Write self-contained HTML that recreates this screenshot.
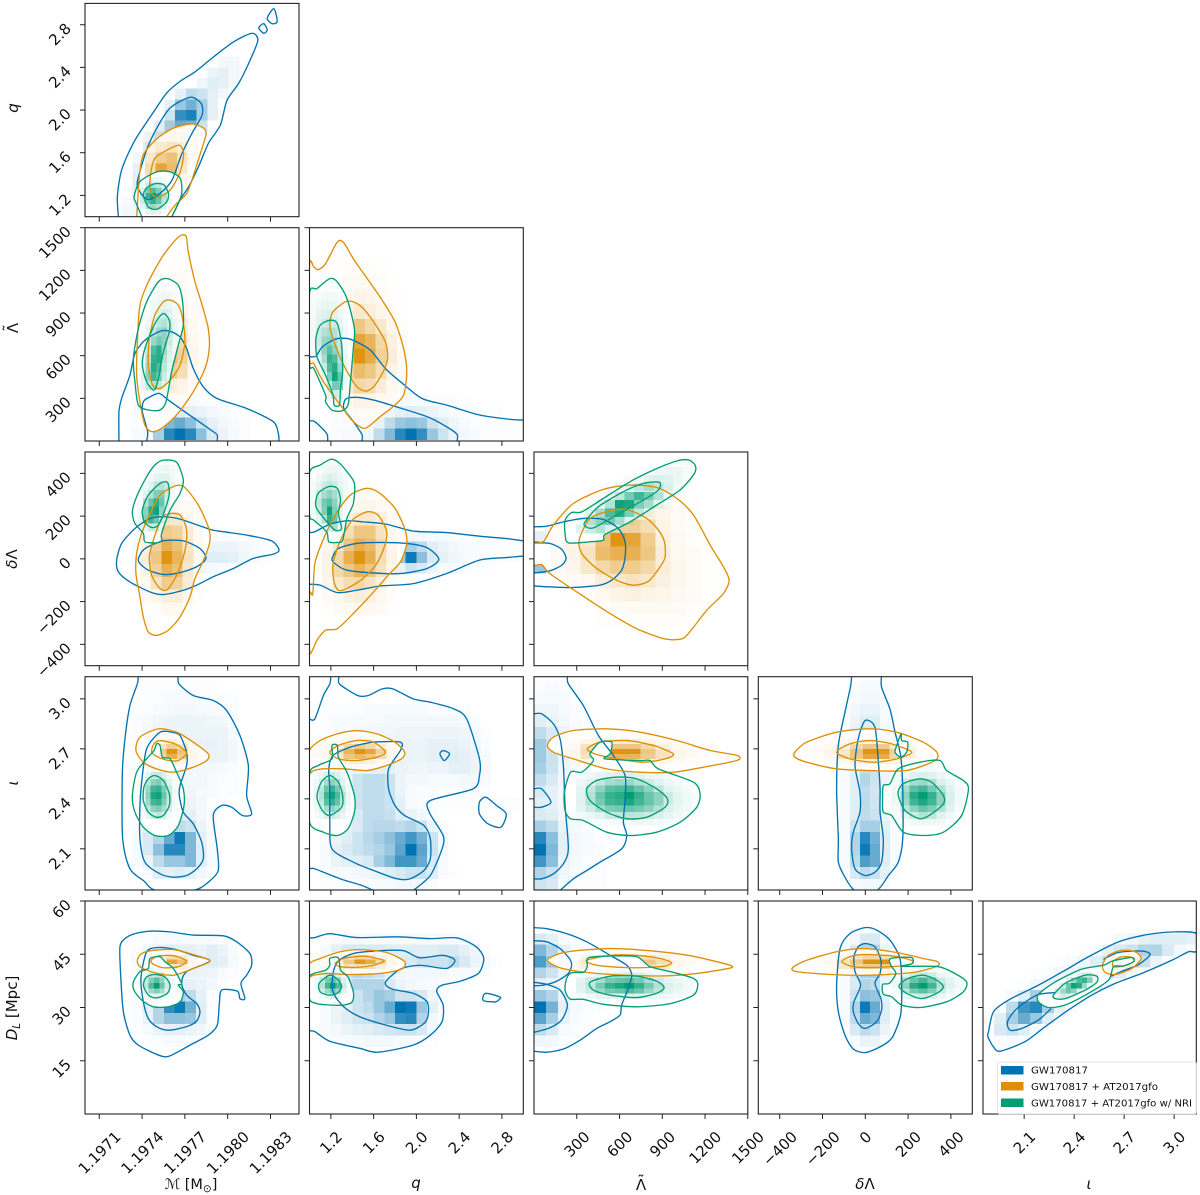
<!DOCTYPE html>
<html lang="en">
<head>
<meta charset="utf-8">
<title>GW170817 corner plot</title>
<style>
html,body{margin:0;padding:0;background:#fff;}
svg{display:block;filter:blur(0.35px);}
text{font-family:"DejaVu Sans","Liberation Sans",sans-serif;fill:#111;}
</style>
</head>
<body>
<svg id="chart" xmlns="http://www.w3.org/2000/svg" width="1200" height="1195" viewBox="0 0 1200 1195">
<rect x="0" y="0" width="1200" height="1195" fill="#ffffff"/>
<g id="panels"></g>
<g id="labels"></g>
<text transform="rotate(-90 18 108)" x="18" y="108" font-size="15" font-style="italic" text-anchor="middle">q</text>
<text transform="rotate(-90 18 328)" x="18" y="328" font-size="15" text-anchor="middle">Λ</text>
<text transform="rotate(-90 18 328)" x="18" y="324" font-size="15" text-anchor="middle">˜</text>
<text transform="rotate(-90 17 559)" x="17" y="559" font-size="15" text-anchor="middle"><tspan font-style="italic">δ</tspan>Λ</text>
<text transform="rotate(-90 18 783)" x="18" y="783" font-size="15" font-style="italic" text-anchor="middle">ι</text>
<text transform="rotate(-90 17 1008)" x="17" y="1008" font-size="15" text-anchor="middle"><tspan font-style="italic">D</tspan><tspan font-size="10.5" dy="3" font-style="italic">L</tspan><tspan dy="-3"> [Mpc]</tspan></text>
<text x="191" y="1189" font-size="14.5" text-anchor="middle"><tspan font-style="italic">ℳ</tspan> [M<tspan font-size="10.5" dy="3">⊙</tspan><tspan dy="-3">]</tspan></text>
<text x="416" y="1188" font-size="15" font-style="italic" text-anchor="middle">q</text>
<text x="641" y="1190" font-size="15" text-anchor="middle">Λ</text>
<text x="641" y="1186" font-size="15" text-anchor="middle">˜</text>
<text x="865" y="1189" font-size="15" text-anchor="middle"><tspan font-style="italic">δ</tspan>Λ</text>
<text x="1089" y="1189" font-size="15" font-style="italic" text-anchor="middle">ι</text>
<g>
<rect x="997.5" y="1062" width="199" height="52" fill="#ffffff" fill-opacity="0.85" stroke="#dddddd" stroke-width="0.8" rx="2"/>
<rect x="1001" y="1066" width="22.5" height="8.5" fill="#0173b2"/>
<text x="1031" y="1073.5" font-size="9.6" textLength="57" lengthAdjust="spacingAndGlyphs">GW170817</text>
<rect x="1001" y="1082" width="22.5" height="8.5" fill="#de8f05"/>
<text x="1031" y="1090" font-size="9.6" textLength="127" lengthAdjust="spacingAndGlyphs">GW170817 + AT2017gfo</text>
<rect x="1001" y="1098.5" width="22.5" height="8.5" fill="#029e73"/>
<text x="1031" y="1106.5" font-size="9.6" textLength="161" lengthAdjust="spacingAndGlyphs">GW170817 + AT2017gfo w/ NRI</text>
</g>
</svg>
<script>
// Chirp mass is stored in units of 1e-5 above 1.197 Msun.
const seriesColors = ['#0173b2', '#de8f05', '#029e73'];
const mcTicks = [10, 40, 70, 100, 130];
const mcTickLabels = ['1.1971', '1.1974', '1.1977', '1.1980', '1.1983'];
const qTicks = [1.2, 1.6, 2.0, 2.4, 2.8];
const qTickLabels = ['1.2', '1.6', '2.0', '2.4', '2.8'];
const lambdaTicks = [300, 600, 900, 1200, 1500];
const lambdaTickLabels = ['300', '600', '900', '1200', '1500'];
const deltaTicks = [-400, -200, 0, 200, 400];
const deltaTickLabels = ['−400', '−200', '0', '200', '400'];
const iotaTicks = [2.1, 2.4, 2.7, 3.0];
const iotaTickLabels = ['2.1', '2.4', '2.7', '3.0'];
const distTicks = [15, 30, 45, 60];
const distTickLabels = ['15', '30', '45', '60'];
const mcRange = [0, 150];
const qRange = [1, 3];
const lambdaRange = [0, 1500];
const deltaRange = [-500, 500];
const iotaRange = [1.853, 3.133];
const distRange = [0, 60];

/* ---------- panel: chirp mass vs q ---------- */
const contMqB90 = [[23.4,1],[22.7,1.19],[25.7,1.44],[33.9,1.69],[40.9,1.84],[48,1.98],[57.3,2.16],[66.7,2.27],[77.3,2.36],[90.2,2.5],[104.2,2.64],[117.1,2.72],[121.1,2.65],[114.8,2.44],[107.7,2.25],[99.5,2.09],[94.9,1.86],[86.6,1.69],[79.6,1.47],[72.6,1.28],[66.7,1.16],[60.9,1]];
const contMqBIsland1 = [[121.8,2.77],[125.3,2.81],[127.7,2.75],[125.3,2.72]];
const contMqBIsland2 = [[127.7,2.86],[132.4,2.95],[134.7,2.83],[131.2,2.81]];
const contMqB50 = [[36.7,1.33],[43.3,1.63],[50.3,1.83],[59.7,2.02],[73.8,2.12],[81.5,2.06],[82,1.95],[74.9,1.78],[67.9,1.59],[60.9,1.34],[52.7,1.22],[44.5,1.16],[38.6,1.23]];
const contMqO90 = [[36.3,1],[38.1,1.38],[40.9,1.58],[50.3,1.73],[62,1.83],[74.9,1.87],[83.1,1.83],[84.8,1.77],[80.8,1.59],[77.3,1.44],[71.4,1.22],[63.2,1.11],[57.3,1]];
const contMqO50 = [[46.1,1.41],[49.1,1.55],[59.7,1.64],[66.3,1.67],[69.1,1.59],[66.7,1.42],[59.7,1.25],[50.3,1.18],[45.6,1.25]];
const contMqG90 = [[39.8,1],[35.8,1.13],[34.4,1.19],[38.6,1.33],[50.3,1.42],[59.7,1.42],[66.7,1.36],[67.9,1.23],[65.6,1.13],[60.9,1]];
const contMqG50 = [[40.9,1.2],[43.3,1.27],[49.1,1.31],[55,1.3],[58.5,1.22],[57.3,1.14],[50.3,1.07],[44.5,1.09]];
const heatMqB = [[.05,.05],[.03,.08,.1],[0,.1,.2,.2],[0,.12,.2,.1],[0,.1,.15],[0,.05,.15,.1],[0,0,.12,.2,.2],[0,0,.05,.2,.35,.3,.2,.05],[0,0,0,.1,.35,.6,.55,.2],[0,0,0,0,.2,.8,.9,.35,.1],[0,0,0,0,.1,.4,.55,.35,.1],[0,0,0,0,0,.1,.25,.2,.1,.05],[0,0,0,0,0,0,0,.06,.12,.1,.05],[0,0,0,0,0,0,0,0,.08,.1,.05],[0,0,0,0,0,0,0,0,0,.05,.05]];
const heatMqO = [[0,.03,.03],[.03,.1,.15,.05],[0,.2,.45,.3,.08],[0,.3,.8,.6,.2],[0,.2,.45,.55,.25,.05],[0,.1,.18,.25,.15,.04],[0,.05,.07,.08,.06,.03],[0,0,.03,.03,.03,.03]];
const heatMqG = [[.03,.1,.12,.1,.04,.01],[.1,.3,.4,.3,.12,.03],[.2,.6,.8,.6,.25,.05],[.25,.8,1,.7,.3,.06],[.15,.55,.7,.5,.2,.04],[.05,.2,.3,.25,.1,.02],[.01,.05,.08,.07,.03,0]];

/* ---------- panel: chirp mass vs lambda ---------- */
const contMlB90 = [[23.8,0],[23.8,206],[25.7,300],[31.5,463],[35,615],[42,709],[52.6,772],[59.6,772],[66.6,732],[71.2,651],[75.9,510],[82.9,381],[92.3,300],[113.3,229],[132,136],[135.5,54],[136,0]];
const contMlB50 = [[43.2,0],[43.9,66],[40.2,206],[40.9,276],[44.4,304],[51.9,335],[58.4,288],[66.6,229],[78.3,147],[89.9,66],[92.7,42],[92.7,0]];
const contMlO90 = [[70.8,1441],[72.4,1329],[77.1,1119],[81.8,966],[86.4,791],[87.1,651],[84.1,510],[75.9,346],[64.2,183],[53.7,89],[46.7,66],[42,112],[38.5,276],[36.2,463],[36.7,697],[38.5,955],[44.4,1119],[54.9,1306],[65.4,1434]];
const contMlO50 = [[60,990],[65.4,955],[68.4,861],[70,697],[66.6,534],[59.6,428],[52.6,370],[47.4,393],[44.4,534],[45.1,721],[49,885],[54.9,978]];
const contMlG90 = [[57.7,1142],[65.4,1095],[68.4,978],[68.9,814],[65.4,674],[60.7,487],[56.8,276],[52.6,218],[44.4,218],[37.4,253],[35,417],[33.9,580],[37.4,791],[43.2,978],[51.4,1119]];
const contMlG50 = [[54.9,896],[59.1,849],[59.1,768],[54.9,627],[51.4,440],[48.4,358],[43.2,417],[40.2,534],[42,651],[49,826]];
const heatMlB = [[.03,.04,.35,.85,1,.85,.45,.15,.08,.04,.02],[.02,.03,.1,.5,.6,.45,.2,.1,.05,.03,.02],[.02,.02,.03,.1,.12,.1,.08,.05,.03,.02,.01],[.01,.02,.02,.04,.04,.03,.02,.02,.01]];
const heatMlO = [[0,.01,.02,.01,0,0],[.01,.03,.04,.03,.01,0],[.04,.1,.12,.1,.03,.01],[.15,.35,.4,.3,.06,.02],[.2,.45,.55,.4,.08,.02],[.15,.4,.45,.3,.06,.02],[.08,.2,.3,.2,.04,.02],[.04,.1,.15,.1,.03,.01],[.02,.05,.07,.05,.02,.01],[.01,.03,.04,.03,.01,0],[0,.01,.02,.01,0,0]];
const heatMlG = [[.03,.05,.05,.04,.03,.01,0,0],[.1,.25,.3,.25,.12,.05,.02,0],[.1,.45,.75,.55,.2,.08,.02,0],[.08,.4,.85,.7,.25,.1,.03,0],[.05,.3,.8,.85,.3,.12,.04,0],[.04,.25,.7,.85,.4,.15,.05,.01],[.02,.15,.4,.55,.45,.2,.06,.02],[.01,.1,.25,.4,.45,.25,.08,.02],[0,.06,.12,.25,.3,.2,.08,.02],[0,.03,.08,.15,.18,.12,.05,.02],[0,.02,.05,.08,.1,.08,.04,.02],[0,.01,.03,.05,.06,.05,.03,.01],[0,0,.01,.02,.03,.02,.01,0]];

/* ---------- panel: q vs lambda ---------- */
const contQlB90a = [[1,592],[1.06,597],[1.12,662],[1.24,716],[1.35,721],[1.44,697],[1.57,639],[1.71,510],[1.85,417],[2.05,300],[2.28,253],[2.59,183],[2.88,152],[3,147]];
const contQlB90b = [[1,141],[1.05,136],[1.16,54],[1.17,0]];
const contQlB50 = [[1.49,0],[1.49,47],[1.4,147],[1.32,229],[1.34,295],[1.44,307],[1.6,288],[1.78,248],[2.1,171],[2.28,101],[2.38,47],[2.38,0]];
const contQlO90 = [[1,1231],[1.04,1224],[1.08,1205],[1.15,1247],[1.26,1399],[1.32,1395],[1.41,1282],[1.54,1142],[1.66,1013],[1.8,838],[1.88,651],[1.91,487],[1.88,323],[1.78,241],[1.66,171],[1.52,89],[1.41,136],[1.3,241],[1.13,417],[1.04,545],[1,592]];
const contQlO50 = [[1.35,983],[1.47,955],[1.6,838],[1.71,697],[1.73,580],[1.69,487],[1.6,381],[1.52,351],[1.43,393],[1.32,534],[1.23,697],[1.19,814],[1.22,908]];
const contQlG90 = [[1,1037],[1.07,1072],[1.19,1142],[1.26,1119],[1.35,1002],[1.42,791],[1.41,651],[1.38,393],[1.36,253],[1.3,211],[1.21,218],[1.15,276],[1.15,323],[1.04,510],[1,545]];
const contQlG50 = [[1.1,814],[1.19,849],[1.26,826],[1.3,674],[1.31,487],[1.29,370],[1.28,253],[1.23,253],[1.22,323],[1.15,463],[1.07,592],[1.06,721]];
const heatQlB = [[.02,.03,.04,.06,.25,.5,.85,1,.8,.4,.2,.08,.05,.03,.02,.02,.01,.01],[.01,.02,.02,.03,.08,.25,.4,.45,.4,.2,.12,.06,.03,.02,.02,.01,.01,.01],[.01,.01,.01,.02,.03,.06,.1,.12,.1,.08,.05,.03,.02,.02,.01,.01],[0,0,.01,.01,.01,.02,.03,.03,.03,.02,.02,.01,.01]];
const heatQlO = [[.01,.02,.03,.03,.02,.01,0],[.03,.06,.1,.1,.06,.03,.01],[.12,.2,.35,.3,.15,.05,.02],[.25,.4,.6,.5,.3,.1,.03],[.3,.55,.95,.75,.4,.15,.04],[.25,.5,.8,.65,.35,.12,.03],[.12,.3,.5,.35,.2,.07,.02],[.06,.12,.2,.15,.08,.03,.01],[.03,.06,.1,.08,.04,.02,.01],[.02,.03,.04,.03,.02,.01,0],[.01,.02,.02,.02,.01,0,0]];
const heatQlG = [[0,0,.02,.1,.2,.15,.03,0],[0,0,.04,.25,.55,.5,.05,0],[0,.02,.1,.5,.95,.6,.08,.01],[0,.05,.2,.7,.85,.4,.07,.01],[.02,.1,.35,.8,.7,.3,.07,.01],[.03,.15,.45,.65,.45,.25,.06,.01],[.05,.2,.4,.45,.35,.2,.06,.01],[.05,.2,.3,.35,.3,.15,.05,.01],[.05,.12,.2,.22,.2,.1,.04,.01],[.04,.1,.12,.15,.12,.07,.03,.01],[.03,.06,.08,.08,.08,.05,.02,0],[.02,.03,.05,.05,.05,.03,.01,0],[.01,.01,.02,.02,.02,.01,0,0]];

/* ---------- panel: chirp mass vs delta lambda ---------- */
const contMdB90 = [[22.2,-6],[25.7,72],[35,142],[45.6,189],[54.9,197],[66.6,186],[87.6,138],[96.9,127],[113.3,111],[130.8,84],[136,41],[132,22],[118,2],[104,-45],[89.9,-84],[78.3,-123],[68.9,-147],[54.9,-167],[45.6,-155],[31.5,-108],[23.4,-61]];
const contMdB50 = [[37.4,2],[42,48],[54.9,84],[68.9,84],[80.6,48],[84.8,2],[78.3,-37],[66.6,-64],[54.9,-73],[44.4,-53],[38.5,-22]];
const contMdO90 = [[63.5,342],[70,334],[79.4,252],[86.4,150],[87.6,87],[84.1,9],[77.1,-92],[73.6,-178],[66.6,-272],[58.4,-334],[50.2,-358],[44.4,-342],[40.9,-272],[38.1,-162],[35.7,-69],[36.2,25],[39.7,119],[45.6,212],[52.6,298]];
const contMdO50 = [[59.6,212],[66.6,205],[70.8,150],[71.2,87],[68.9,9],[64.2,-77],[57.7,-144],[52.6,-139],[46.7,-77],[45.1,9],[47.9,87],[53.7,189]];
const contMdG90 = [[54.9,462],[64.2,452],[68.9,369],[66.6,306],[59.6,228],[53.7,119],[53.7,87],[50.2,75],[42,80],[40.9,119],[35,166],[33.2,220],[36.2,291],[43.2,384],[49,439]];
const contMdG50 = [[52.6,353],[57.7,358],[59.1,306],[56,228],[51.4,158],[46.7,147],[41.6,173],[40.2,228],[44.4,298]];
const heatMdB = [[.02,.02,.06,.08,.08,.07,.05,.04,.03,.02,.01],[.04,.08,.15,.2,.2,.18,.15,.12,.12,.1,.06,.03,.02],[.03,.06,.1,.12,.12,.1,.1,.08,.08,.07,.05,.03,.02,.01],[.01,.02,.03,.03,.03,.03,.02,.02,.02,.02,.01]];
const heatMdO = [[.01,.02,.05,.06,.02,0],[.03,.08,.15,.15,.07,.01],[.06,.25,.45,.4,.15,.02],[.1,.4,.7,.55,.2,.04],[.15,.5,.95,.65,.25,.05],[.1,.4,.7,.55,.2,.04],[.06,.25,.45,.4,.15,.03],[.02,.1,.2,.2,.08,.02],[.01,.03,.06,.06,.03,.01]];
const heatMdG = [[.02,.1,.2,.2,.08,.02,0,0],[.08,.5,.75,.6,.2,.05,.01,0],[.05,.45,.85,.95,.45,.1,.02,0],[.03,.3,.6,.85,.6,.15,.03,0],[.01,.12,.3,.5,.5,.2,.05,.01],[0,.05,.12,.25,.3,.2,.07,.02],[0,.02,.05,.1,.12,.12,.06,.02],[0,0,.02,.04,.06,.07,.05,.02],[0,0,0,.01,.02,.03,.02,.01]];

/* ---------- panel: q vs delta lambda ---------- */
const contQdB90a = [[1,123],[1.05,127],[1.19,162],[1.35,178],[1.5,173],[1.72,162],[1.97,130],[2.28,123],[2.59,106],[2.84,95],[3,84]];
const contQdB90b = [[1,-119],[1.1,-123],[1.26,-158],[1.44,-147],[1.66,-127],[1.97,-116],[2.28,-69],[2.59,-6],[2.84,6],[3,13]];
const contQdB50 = [[1.21,-3],[1.27,48],[1.44,72],[1.66,77],[1.91,72],[2.1,52],[2.21,-2],[2.1,-45],[1.85,-69],[1.6,-66],[1.35,-53],[1.26,-30]];
const contQdO90 = [[1.54,330],[1.66,306],[1.8,236],[1.89,142],[1.91,72],[1.85,-14],[1.75,-69],[1.6,-155],[1.41,-256],[1.26,-327],[1.15,-334],[1.07,-381],[1.03,-425],[1,-428],[1,-167],[1.03,-166],[1.05,-22],[1.12,80],[1.24,205],[1.38,298]];
const contQdO50 = [[1.54,220],[1.64,205],[1.72,134],[1.71,72],[1.63,-22],[1.5,-92],[1.35,-139],[1.27,-147],[1.23,-108],[1.22,-22],[1.29,87],[1.4,181]];
const contQdG90 = [[1,403],[1.1,439],[1.2,466],[1.27,452],[1.35,408],[1.42,353],[1.41,259],[1.35,189],[1.31,87],[1.26,77],[1.18,80],[1.16,127],[1.04,181],[1,205]];
const contQdG50 = [[1.08,306],[1.18,338],[1.26,330],[1.29,275],[1.27,213],[1.3,142],[1.24,134],[1.15,181],[1.06,244]];
const heatQdB = [[.02,.02,.02,.03,.04,.05,.06,.08,.2,.15,.08,.04,.03,.02,.01,.01],[.03,.04,.05,.06,.08,.1,.15,.4,.95,.45,.15,.1,.06,.04,.03,.02,.02,.01,.01],[.02,.03,.04,.05,.06,.08,.1,.2,.35,.25,.12,.08,.05,.03,.03,.02,.01,.01,.01],[.01,.01,.02,.02,.02,.03,.03,.04,.05,.05,.03,.03,.02,.02,.01,.01]];
const heatQdO = [[.02,.03,.06,.07,.06,.03,.01,0],[.03,.06,.12,.15,.12,.05,.02,0],[.08,.2,.3,.35,.25,.12,.04,.01],[.1,.35,.5,.65,.5,.25,.07,.02],[.1,.35,.7,.95,.7,.3,.1,.02],[.07,.2,.5,.7,.6,.3,.08,.02],[.04,.1,.3,.5,.5,.25,.07,.02],[.02,.05,.12,.2,.2,.12,.04,.01],[.01,.02,.04,.08,.08,.05,.02,.01],[0,.01,.02,.03,.03,.02,.01,0]];
const heatQdG = [[0,.01,.05,.2,.35,.1,.01,0],[.02,.1,.3,.8,.6,.1,.02,0],[.05,.2,.5,.95,.5,.1,.02,0],[.05,.25,.55,.65,.45,.15,.03,0],[.05,.2,.35,.45,.35,.15,.04,.01],[.04,.1,.2,.25,.2,.1,.05,.01],[.02,.05,.1,.15,.12,.08,.04,.01],[.01,.02,.05,.07,.07,.05,.02,0],[0,0,.01,.03,.03,.02,0,0]];

/* ---------- panel: lambda vs delta lambda ---------- */
const contLdB90 = [[0,150],[89,153],[206,173],[346,189],[487,184],[592,142],[639,80],[639,9],[615,-53],[545,-100],[463,-123],[276,-134],[112,-131],[0,-127]];
const contLdB50 = [[0,75],[112,72],[194,45],[225,2],[194,-30],[112,-56],[0,-66]];
const contLdO90 = [[0,75],[66,80],[136,158],[276,259],[487,325],[674,345],[861,334],[1002,283],[1119,205],[1236,64],[1329,-37],[1369,-100],[1329,-162],[1212,-241],[1072,-358],[1013,-377],[908,-373],[721,-327],[534,-256],[300,-155],[112,-69],[54,-27],[0,-25]];
const contLdO50 = [[318,91],[393,189],[534,225],[651,231],[791,189],[873,134],[915,80],[920,9],[885,-37],[803,-105],[697,-123],[580,-100],[440,-45],[335,25]];
const contLdG90 = [[218,181],[264,217],[335,220],[487,283],[674,361],[838,416],[1002,458],[1083,463],[1130,439],[1126,400],[1025,322],[861,252],[674,173],[498,114],[487,87],[393,80],[241,75],[218,119]];
const contLdG50 = [[358,173],[452,244],[627,314],[767,353],[880,358],[873,322],[767,275],[580,205],[417,145],[358,153]];
const heatLdB = [[.4,.1,.03,.01],[.8,.3,.08,.02],[.2,.15,.05,.02],[.1,.05,.02,.01]];
const heatLdO = [[0,0,0,.01,.01,.02,.02,.02,.02,.01,0],[0,0,0,.02,.03,.04,.04,.04,.03,.02,.01],[0,.01,.02,.06,.1,.12,.1,.08,.05,.03,.01],[.01,.03,.06,.15,.2,.25,.2,.12,.07,.03,.01],[.03,.08,.2,.35,.45,.45,.35,.15,.07,.03,.01],[.04,.1,.25,.6,.7,.7,.5,.15,.06,.03,.01],[.03,.08,.2,.55,.95,.8,.45,.12,.05,.02,.01],[.02,.05,.12,.3,.35,.4,.3,.1,.04,.02,.01],[.01,.02,.05,.08,.1,.12,.12,.08,.03,.01,0],[0,.01,.02,.03,.04,.05,.05,.04,.02,.01,0]];
const heatLdG = [[.12,.2,.3,.15,.05,.01,0,0,0,0,0,0],[.06,.3,.45,.55,.35,.12,.02,0,0,0,0,0],[.01,.12,.35,.7,.85,.5,.25,.05,0,0,0,0],[0,.02,.1,.3,.95,.9,.5,.35,.1,.02,0,0],[0,0,.01,.08,.25,.55,.75,.55,.3,.08,.02,0],[0,0,0,.01,.05,.15,.25,.35,.25,.15,.05,.01],[0,0,0,0,.01,.03,.06,.12,.15,.12,.08,.03],[0,0,0,0,0,0,.01,.03,.06,.07,.07,.04],[0,0,0,0,0,0,0,0,.01,.02,.03,.03]];

/* ---------- panel: chirp mass vs iota ---------- */
const contMiB90 = [[37.4,3.14],[36.7,3.09],[31.5,2.96],[28,2.76],[26.2,2.56],[26.4,2.16],[31.5,1.98],[40.9,1.91],[49.8,1.85],[75.9,1.85],[86.4,1.9],[93.4,1.97],[92.7,2.1],[89.9,2.3],[95.8,2.36],[102.8,2.35],[110.3,2.3],[116.8,2.31],[113.3,2.42],[114.5,2.6],[108.6,2.78],[99.3,2.93],[89.9,2.99],[75.9,3.02],[65.9,3.09],[65.4,3.14]];
const contMiB50 = [[52.6,2.8],[60.7,2.8],[66.6,2.78],[71.2,2.68],[71.2,2.6],[66.6,2.48],[66.1,2.42],[68.9,2.32],[75.9,2.25],[81.8,2.14],[82.9,2.04],[78.3,1.98],[71.2,1.94],[61.9,1.93],[52.6,1.95],[42,2.02],[38.5,2.16],[38.5,2.36],[39.7,2.5],[43.2,2.7]];
const contMiO90 = [[51.4,2.82],[64.2,2.8],[75.9,2.74],[86.4,2.67],[85.3,2.63],[75.9,2.59],[61.9,2.56],[50.2,2.58],[40.9,2.62],[35.7,2.69],[38.5,2.77]];
const contMiO50 = [[52.6,2.75],[63,2.73],[70,2.69],[71.2,2.67],[65.4,2.63],[58.4,2.63],[51.4,2.65],[46.7,2.68],[48.4,2.73]];
const contMiG90 = [[50.2,2.73],[52.6,2.72],[54.2,2.65],[59.6,2.64],[64.2,2.56],[68.9,2.46],[69.4,2.36],[65.4,2.24],[58.4,2.18],[49,2.18],[40.9,2.23],[35,2.32],[33.2,2.42],[36.2,2.56],[43.2,2.64],[48.4,2.69]];
const contMiG50 = [[49,2.54],[54.9,2.51],[59.1,2.43],[59.1,2.36],[54.9,2.3],[49.8,2.29],[44.4,2.32],[40.9,2.39],[41.3,2.47],[44.4,2.52]];
const heatMiB = [[.01,.03,.12,.1,.12,.1,.05,.02],[.03,.08,.25,.4,.4,.5,.12,.03],[.03,.15,.45,.85,.85,.5,.12,.03],[.03,.15,.3,.6,.95,.5,.1,.02],[.02,.1,.12,.2,.25,.2,.08,.02],[.02,.05,.08,.1,.12,.1,.05,.02],[.02,.05,.07,.08,.08,.07,.05,.02,.01],[.02,.05,.07,.07,.07,.06,.04,.03,.01,.01],[.02,.04,.06,.06,.06,.05,.05,.03,.02,.01],[.02,.04,.05,.05,.06,.05,.05,.05,.03,.02],[.02,.05,.07,.08,.08,.07,.06,.08,.08,.05],[.02,.05,.07,.08,.08,.08,.08,.09,.08,.05],[.02,.05,.07,.07,.08,.08,.08,.08,.08,.04],[.02,.04,.06,.07,.08,.08,.07,.06,.05,.03],[.01,.02,.03,.04,.05,.05,.04,.03,.02,.02],[0,.01,.02,.03,.03,.03,.02,.02,.01,.01],[0,.01,.01,.02,.02,.02,.01,.01]];
const heatMiO = [[.01,.02,.03,.02,.01,0],[.03,.08,.15,.1,.05,.01],[.06,.4,.7,.45,.08,.02],[.05,.45,.95,.55,.07,.02],[.03,.25,.45,.25,.05,.01],[.02,.1,.15,.08,.03,.01],[.01,.03,.05,.03,.01,0]];
const heatMiG = [[.02,.1,.2,.25,.15,.05,.01,0],[.05,.25,.45,.5,.35,.15,.03,0],[.08,.4,.75,.8,.5,.2,.05,.01],[.1,.45,.9,.95,.6,.25,.05,.01],[.08,.4,.75,.8,.5,.2,.05,.01],[.05,.25,.45,.5,.3,.12,.03,0],[.02,.1,.2,.22,.15,.05,.01,0],[.01,.03,.05,.06,.04,.01,0,0]];

/* ---------- panel: q vs iota ---------- */
const contQiB90a = [[1,2.88],[1.05,2.88],[1.13,3.02],[1.19,3.09],[1.2,3.14]];
const contQiB90b = [[1.28,3.14],[1.28,3.09],[1.45,3.02],[1.55,3.02],[1.68,3.06],[1.78,3.06],[1.97,3],[2.13,2.98],[2.35,2.94],[2.47,2.88],[2.59,2.64],[2.59,2.54],[2.53,2.46],[2.13,2.39],[2.12,2.32],[2.25,2.18],[2.24,2.1],[2.13,1.94],[1.97,1.85]];
const contQiB90c = [[1,1.98],[1.05,1.98],[1.29,1.92],[1.49,1.88],[1.6,1.85]];
const contQiBIsland1 = [[2.22,2.67],[2.25,2.69],[2.31,2.67],[2.26,2.63]];
const contQiBIsland2 = [[2.59,2.38],[2.65,2.41],[2.75,2.36],[2.84,2.31],[2.79,2.23],[2.67,2.25],[2.59,2.31]];
const contQiB50 = [[1.22,2.66],[1.38,2.71],[1.6,2.74],[1.85,2.74],[1.85,2.69],[1.74,2.58],[1.74,2.46],[1.8,2.36],[1.89,2.3],[2.07,2.24],[2.13,2.16],[2.13,2.04],[2.07,1.97],[1.94,1.92],[1.82,1.92],[1.6,1.97],[1.41,2.02],[1.21,2.1],[1.19,2.26],[1.19,2.46],[1.18,2.58]];
const contQiO90 = [[1,2.69],[1.1,2.75],[1.26,2.79],[1.44,2.81],[1.63,2.79],[1.8,2.74],[1.89,2.68],[1.86,2.64],[1.72,2.6],[1.54,2.57],[1.32,2.58],[1.13,2.58],[1.04,2.57],[1,2.56]];
const contQiO50 = [[1.19,2.68],[1.27,2.72],[1.44,2.75],[1.6,2.74],[1.71,2.68],[1.63,2.65],[1.44,2.63],[1.27,2.64]];
const contQiG90 = [[1,2.55],[1.08,2.6],[1.21,2.64],[1.21,2.72],[1.26,2.72],[1.27,2.65],[1.35,2.56],[1.42,2.42],[1.42,2.32],[1.36,2.22],[1.26,2.18],[1.13,2.2],[1,2.26]];
const contQiG50 = [[1.19,2.54],[1.27,2.5],[1.31,2.42],[1.3,2.35],[1.19,2.3],[1.12,2.33],[1.07,2.41],[1.11,2.5]];
const heatQiB = [[.01,.01,.02,.02,.02,.03,.04,.05,.05,.05,.02],[.02,.04,.04,.05,.06,.08,.12,.15,.2,.2,.12,.03,.01],[.03,.08,.1,.12,.15,.35,.5,.75,.75,.6,.15,.03],[.03,.1,.15,.2,.25,.3,.4,.65,1,.65,.2,.05],[.02,.08,.12,.2,.28,.35,.45,.6,.75,.55,.2,.05],[.02,.05,.1,.15,.25,.28,.28,.25,.3,.2,.08,.02],[.02,.04,.08,.15,.25,.25,.22,.12,.08,.05,.02],[.01,.03,.07,.2,.25,.25,.2,.1,.04,.02,.01,.01,.01,.01,.01,.02,.02,.02,.01],[.01,.03,.07,.2,.25,.25,.2,.08,.03,.02,.02,.02,.02,.02,.03,.02],[.01,.03,.07,.2,.25,.25,.2,.08,.05,.05,.04,.04,.04,.05,.05,.03],[.02,.03,.06,.08,.1,.1,.1,.08,.07,.06,.07,.07,.1,.1,.07,.03],[.02,.05,.06,.07,.08,.08,.08,.08,.08,.08,.1,.1,.12,.1,.07,.03],[.02,.04,.05,.06,.07,.07,.07,.08,.08,.08,.1,.1,.1,.08,.06,.02],[.02,.03,.04,.05,.05,.06,.06,.07,.07,.07,.07,.08,.08,.06,.04,.01],[.02,.03,.03,.04,.04,.04,.05,.05,.05,.05,.05,.05,.05,.04,.02],[.01,.02,.02,.02,.03,.03,.03,.03,.03,.03,.02,.02,.02,.01]];
const heatQiO = [[.01,.02,.02,.03,.03,.03,.02,.01,0],[.02,.03,.06,.12,.15,.12,.06,.02,.01],[.03,.05,.2,.5,.6,.5,.3,.06,.01],[.03,.06,.3,.65,.95,.8,.4,.08,.02],[.03,.05,.15,.35,.45,.35,.15,.05,.01],[.01,.02,.06,.1,.12,.1,.05,.02,.01],[0,.01,.02,.03,.03,.03,.02,.01,0]];
const heatQiG = [[.03,.08,.15,.2,.15,.08,.02,0],[.06,.15,.35,.45,.35,.15,.04,.01],[.08,.25,.65,.8,.6,.25,.06,.01],[.1,.3,.75,.95,.7,.3,.07,.01],[.08,.25,.6,.8,.55,.2,.05,.01],[.06,.15,.35,.45,.35,.12,.03,0],[.03,.08,.15,.2,.15,.07,.02,0],[.01,.02,.04,.06,.04,.02,0,0]];

/* ---------- panel: lambda vs iota ---------- */
const contLiB90 = [[236,3.14],[241,3.09],[346,2.96],[452,2.78],[557,2.66],[639,2.54],[639,2.4],[627,2.26],[651,2.18],[615,2.1],[463,2.02],[370,1.97],[276,1.92],[183,1.85]];
const contLiB50 = [[0,2.91],[54,2.91],[136,2.85],[183,2.76],[206,2.6],[218,2.36],[241,2.1],[206,2.01],[136,1.95],[54,1.92],[0,1.92]];
const contLiBIsland = [[0,2.46],[54,2.46],[119,2.38],[54,2.35],[0,2.35]];
const contLiO90 = [[510,2.82],[744,2.8],[1002,2.75],[1236,2.69],[1427,2.66],[1423,2.63],[1189,2.59],[978,2.56],[744,2.56],[510,2.58],[276,2.64],[136,2.68],[94,2.72],[136,2.77],[276,2.81]];
const contLiO50 = [[374,2.7],[463,2.74],[651,2.75],[838,2.72],[978,2.67],[920,2.64],[767,2.62],[580,2.64],[428,2.67]];
const contLiG90 = [[463,2.74],[545,2.74],[534,2.67],[498,2.64],[744,2.63],[814,2.63],[873,2.58],[1119,2.5],[1165,2.43],[1142,2.35],[1025,2.26],[861,2.2],[674,2.18],[510,2.2],[346,2.27],[257,2.28],[218,2.33],[213,2.44],[257,2.56],[335,2.56],[417,2.63],[393,2.67]];
const contLiG50 = [[370,2.46],[440,2.51],[580,2.53],[721,2.52],[861,2.46],[936,2.4],[920,2.35],[791,2.29],[651,2.28],[510,2.32],[393,2.39]];
const heatLiB = [[.2,.15,.03,.02,.01,.01],[.3,.2,.06,.03,.02,.01],[.75,.45,.08,.04,.02,.01],[1,.5,.1,.05,.03,.02],[.85,.45,.1,.05,.03,.01],[.35,.25,.08,.04,.02,.01],[.15,.12,.06,.03,.01],[.12,.1,.05,.03,.01],[.15,.1,.05,.02,.01],[.25,.15,.05,.02,.01],[.35,.2,.06,.03,.01],[.38,.2,.07,.03,.01],[.38,.2,.07,.03,.01],[.25,.15,.07,.03,.01],[.12,.08,.05,.02,.01],[.06,.06,.04,.02],[.03,.04,.03,.01],[.02,.03,.02,.01]];
const heatLiO = [[0,.01,.02,.03,.03,.03,.03,.02,.01,.01,0,0],[.01,.02,.05,.1,.15,.15,.1,.07,.03,.02,.01,0],[.02,.05,.25,.45,.65,.65,.45,.25,.08,.03,.02,.01],[.03,.08,.3,.5,.95,.95,.5,.25,.08,.03,.02,.01],[.02,.05,.25,.4,.5,.5,.35,.12,.05,.02,.01,0],[.01,.03,.08,.12,.15,.15,.1,.05,.02,.01,0,0],[0,.01,.02,.03,.04,.04,.03,.02,.01,0,0,0]];
const heatLiG = [[.01,.02,.03,.04,.05,.06,.07,.06,.05,.04,.02,.01,0],[.05,.08,.12,.2,.25,.28,.25,.2,.15,.1,.06,.03,.01],[.1,.2,.35,.5,.55,.6,.55,.45,.3,.15,.08,.05,.02],[.12,.3,.55,.75,.8,.9,.75,.6,.45,.2,.1,.05,.02],[.12,.3,.6,.8,.85,1,.8,.6,.45,.2,.1,.05,.02],[.1,.25,.45,.65,.7,.75,.6,.45,.25,.12,.07,.04,.01],[.06,.12,.25,.35,.4,.4,.3,.2,.12,.07,.04,.02,0],[.03,.06,.1,.12,.15,.15,.12,.08,.06,.04,.02,.01,0]];

/* ---------- panel: delta lambda vs iota ---------- */
const contDiB90 = [[-64,3.14],[-68,3.08],[-95,2.92],[-126,2.72],[-134,2.46],[-126,2.16],[-126,2.02],[-95,1.93],[-48,1.85],[53,1.85],[108,1.94],[154,2.02],[175,2.16],[175,2.46],[165,2.66],[139,2.8],[115,2.94],[76,3.07],[76,3.14]];
const contDiB50 = [[-1,2.87],[45,2.83],[61,2.62],[69,2.46],[69,2.32],[84,2.16],[76,2.02],[45,1.96],[-1,1.94],[-48,1.98],[-64,2.1],[-56,2.2],[-25,2.32],[-25,2.44],[-48,2.6],[-33,2.76]];
const contDiO90 = [[22,2.82],[147,2.8],[271,2.74],[334,2.68],[326,2.63],[193,2.57],[22,2.57],[-134,2.58],[-274,2.62],[-329,2.65],[-329,2.68],[-274,2.74],[-134,2.8]];
const contDiO50 = [[22,2.75],[123,2.73],[217,2.68],[147,2.64],[38,2.62],[-72,2.64],[-134,2.68],[-72,2.73]];
const contDiG90 = [[84,2.48],[115,2.49],[154,2.58],[256,2.62],[349,2.63],[380,2.57],[458,2.51],[482,2.46],[450,2.3],[365,2.2],[271,2.18],[178,2.2],[123,2.3],[84,2.32],[81,2.4]];
const contDiGIsland = [[167,2.79],[170,2.75],[198,2.74],[193,2.68],[165,2.65],[139,2.68],[147,2.72]];
const contDiG50 = [[193,2.5],[256,2.52],[310,2.5],[365,2.42],[365,2.37],[310,2.31],[256,2.28],[186,2.33],[154,2.42],[162,2.47]];
const heatDiB = [[0,.03,.05,.05,.03,0],[.02,.15,.25,.2,.1,.02],[.03,.25,.7,.6,.12,.03],[.03,.3,.95,.6,.12,.03],[.03,.3,.85,.55,.12,.03],[.03,.2,.35,.35,.1,.02],[.03,.12,.25,.2,.07,.02],[.03,.12,.25,.18,.06,.02],[.03,.12,.25,.18,.06,.02],[.03,.12,.3,.2,.07,.02],[.03,.1,.25,.2,.07,.02],[.02,.08,.2,.15,.05,.02],[.02,.08,.15,.12,.05,.01],[.02,.1,.2,.15,.05,.01],[.01,.07,.12,.12,.04,.01],[.01,.05,.08,.08,.03,.01],[0,.03,.05,.05,.02,0],[0,.02,.04,.04,.01,0]];
const heatDiO = [[0,.01,.02,.03,.03,.03,.02,.01,0],[.01,.03,.06,.12,.15,.12,.08,.03,.01],[.02,.05,.25,.5,.8,.75,.35,.1,.02],[.03,.08,.2,.55,.95,.9,.4,.12,.03],[.02,.06,.12,.35,.5,.45,.2,.07,.02],[.01,.02,.05,.1,.12,.1,.05,.02,.01],[0,.01,.02,.03,.03,.03,.02,.01,0]];
const heatDiG = [[.01,.02,.05,.07,.07,.05,.02,.01],[.02,.1,.2,.3,.25,.12,.06,.02],[.04,.25,.45,.6,.5,.3,.12,.04],[.06,.4,.75,.9,.75,.45,.15,.05],[.07,.45,.85,1,.8,.45,.15,.05],[.06,.35,.65,.75,.55,.3,.12,.05],[.03,.2,.35,.4,.3,.15,.08,.03],[.02,.07,.12,.15,.12,.07,.04,.02],[0,.02,.03,.04,.04,.03,.02,0]];

/* ---------- panel: chirp mass vs distance ---------- */
const contMxB90 = [[24.5,47.1],[28,49.4],[35,50.8],[45.6,51.5],[59.6,51.3],[75.9,50.4],[96.9,50.2],[106.3,48.5],[115.6,45.2],[116.8,41.9],[113.3,39.1],[109.3,36.8],[112.1,32.5],[108.6,32.5],[106.8,34.6],[95.8,34.9],[94.1,30.7],[92.7,25],[86.4,22.2],[73.6,19.4],[59.1,16.3],[51.4,16.6],[37.4,19.4],[31.5,22.2],[26.9,28.8],[25,39.1]];
const contMxB50 = [[43.2,45.7],[51.4,46.9],[63,46.4],[75.9,44.7],[87.6,43.1],[71.2,40.1],[67.7,36.8],[71.2,33.5],[78.3,31.1],[80.6,28.8],[78.3,26.2],[71.2,24.6],[58.4,23.6],[50.2,24.6],[44.4,26.9],[40.9,31.6],[39.2,38.2]];
const contMxO90 = [[47.9,46.1],[61.9,46.3],[75.9,44.9],[87.6,43.1],[75.9,41],[61.9,39.1],[47.9,39.9],[38.5,41.5],[36.7,43.3],[39.7,45.2]];
const contMxO50 = [[51.4,44.5],[61.9,44.6],[71.2,43.1],[65.4,41.5],[54.9,41.2],[47.9,42.2],[46.3,43.3]];
const contMxG90 = [[45.6,43.8],[52.6,44.3],[56,42.9],[61.9,41],[67.7,36.8],[65.4,36.3],[68.9,34.4],[66.6,31.6],[58.4,30.2],[47.9,30.2],[39.7,32.1],[34.3,34.9],[33.9,37.2],[38.5,40.1],[44.4,41]];
const contMxG50 = [[49,39.3],[56,38.6],[59.6,36.3],[57.7,34],[50.2,32.7],[44.4,33.5],[40.9,36.3],[43.2,38.6]];
const heatMxB = [[0,.01,.02,.03,.03,.02,.01,0],[.01,.04,.08,.1,.1,.08,.06,.02],[.02,.08,.3,.45,.45,.4,.12,.02],[.02,.1,.3,.8,.95,.55,.12,.02],[.02,.08,.15,.2,.35,.25,.1,.02],[.02,.05,.08,.08,.1,.1,.08,.05,.01],[.02,.06,.08,.08,.08,.08,.08,.07,.03,.01],[.03,.08,.1,.15,.12,.1,.1,.12,.1,.04],[.02,.06,.08,.12,.1,.1,.08,.12,.08,.03],[.01,.02,.03,.03,.03,.03,.03,.03,.02,.01]];
const heatMxO = [[.01,.02,.03,.02,.01,0],[.03,.1,.2,.15,.05,.01],[.05,.3,.8,.55,.08,.02],[.03,.15,.3,.2,.05,.01],[.01,.03,.05,.03,.01,0]];
const heatMxG = [[.01,.03,.08,.1,.08,.03,.01,0],[.03,.15,.4,.5,.35,.12,.03,.01],[.04,.25,.7,1,.6,.2,.05,.01],[.04,.2,.5,.65,.45,.15,.04,.01],[.02,.08,.2,.25,.18,.07,.02,0],[.01,.02,.05,.06,.05,.02,0,0]];

/* ---------- panel: q vs distance ---------- */
const contQxB90 = [[1,49.6],[1.05,49.7],[1.19,50.8],[1.44,49.7],[1.82,49.9],[2.13,49.4],[2.38,49.6],[2.56,47.1],[2.63,43.8],[2.58,39.6],[2.41,37.4],[2.24,36.3],[2.19,34.6],[2.25,30.7],[2.24,26],[2.13,22.2],[1.97,19.4],[1.64,17.4],[1.47,18.5],[1.19,20.5],[1.05,23.2],[1,23.4]];
const contQxBIsland = [[2.65,34],[2.78,33],[2.78,32.4],[2.74,31.6],[2.64,31.8],[2.62,32.5]];
const contQxB50 = [[1.22,39.6],[1.27,43.1],[1.41,45.2],[1.66,46],[1.88,46],[2.03,44],[2.25,44.7],[2.36,43.3],[2.28,41],[2.03,41.9],[1.85,40.8],[1.71,37.1],[1.77,35.2],[1.97,34],[2.1,31.6],[2.11,27.9],[2.07,25.5],[1.94,23.6],[1.72,25],[1.47,27.4],[1.32,30.2],[1.22,34.4]];
const contQxO90 = [[1,42.4],[1.1,43.8],[1.29,45.7],[1.47,46.3],[1.72,45.5],[1.89,42.9],[1.86,40.8],[1.66,39.6],[1.35,39.3],[1.16,39.6],[1.04,39.1],[1,38.8]];
const contQxO50 = [[1.24,42.4],[1.32,43.8],[1.5,44.5],[1.63,43.8],[1.7,43.1],[1.6,41.9],[1.44,41.3],[1.29,41.5]];
const contQxG90 = [[1,38.8],[1.15,40.5],[1.19,41.9],[1.19,43.8],[1.27,44],[1.29,40.5],[1.36,38.6],[1.41,34.4],[1.4,31.6],[1.32,30.7],[1.19,30.7],[1.07,31.1],[1,32.4]];
const contQxG50 = [[1.09,36.8],[1.19,39.1],[1.27,37.7],[1.3,35.8],[1.26,34],[1.18,33.5],[1.1,34.4]];
const heatQxB = [[.01,.02,.03,.04,.05,.05,.05,.03,.03,.02,.01],[.03,.05,.08,.1,.12,.15,.18,.2,.2,.15,.05,.01],[.03,.08,.12,.18,.2,.3,.4,.8,.85,.3,.05,.01],[.03,.08,.1,.2,.25,.4,.6,1,.95,.4,.1,.02],[.03,.06,.1,.2,.3,.4,.35,.2,.2,.15,.06,.02],[.03,.08,.2,.3,.3,.3,.15,.08,.05,.04,.03,.02,.02,.01],[.03,.1,.2,.3,.25,.2,.1,.06,.05,.05,.05,.05,.03,.03,.03,.01],[.05,.12,.2,.25,.25,.2,.12,.15,.15,.2,.2,.2,.25,.15,.08,.03,.01],[.03,.1,.15,.15,.15,.15,.12,.12,.12,.12,.12,.15,.15,.1,.06,.02],[.02,.03,.04,.04,.04,.04,.04,.04,.04,.04,.04,.04,.03,.02,.01]];
const heatQxO = [[.01,.01,.02,.03,.03,.03,.02,.01,0],[.02,.03,.1,.25,.3,.3,.15,.03,.01],[.03,.05,.2,.5,.9,.75,.35,.08,.02],[.02,.03,.08,.2,.35,.3,.12,.03,.01],[0,.01,.02,.04,.06,.05,.02,.01,0]];
const heatQxG = [[.01,.04,.1,.15,.1,.03,.01],[.04,.2,.4,.55,.4,.12,.03],[.05,.3,.75,1,.7,.2,.04],[.05,.25,.55,.65,.45,.15,.03],[.02,.1,.2,.25,.15,.06,.01],[0,.02,.05,.06,.04,.01,0]];

/* ---------- panel: lambda vs distance ---------- */
const contLxB90 = [[0,52.5],[89,52.2],[229,50.8],[370,48.5],[534,44.7],[651,41.9],[686,39.1],[662,35.4],[615,30.7],[604,27.9],[534,26],[440,24.1],[323,20.8],[206,18.3],[89,17.4],[0,17.7]];
const contLxB50a = [[0,48.8],[89,48.5],[183,46.6],[248,43.8],[264,41.9],[241,39.6],[159,37.4],[66,36.3],[0,36.1]];
const contLxB50b = [[0,37.1],[89,36.5],[183,34.9],[234,30.7],[194,26.5],[112,24.3],[0,23]];
const contLxO90 = [[323,46.1],[557,46.6],[838,45.9],[1095,44.6],[1282,42.9],[1388,41.7],[1364,41],[1142,39.6],[908,38.9],[627,39.1],[370,39.9],[183,41.2],[94,43.3],[183,45.2]];
const contLxO50 = [[370,43.3],[534,44.7],[721,44.7],[885,43.8],[966,42.6],[908,41.6],[721,41.2],[534,41.5],[417,42.1]];
const contLxG90 = [[381,44],[534,44.5],[721,44.3],[814,41.5],[978,39.9],[1119,38.2],[1149,36.5],[1119,33.5],[955,31.1],[721,30.2],[487,30.9],[346,32.3],[253,32.4],[218,34.9],[229,38.2],[264,39.8],[346,39.9],[374,41.5]];
const contLxG50 = [[393,37.1],[534,38.8],[721,38.8],[861,37.4],[913,35.6],[861,34],[721,32.8],[534,33.5],[417,34.9]];
const heatLxB = [[.06,.05,.02,.01,0,0],[.25,.15,.04,.02,.01,0],[.65,.35,.08,.03,.01,0],[1,.55,.1,.04,.02,.01],[.4,.3,.08,.03,.01,0],[.1,.07,.04,.02,.01,0],[.3,.2,.07,.03,.01,0],[.7,.4,.1,.04,.01,0],[.5,.3,.1,.03,.01,0],[.15,.1,.04,.02,0,0]];
const heatLxO = [[0,.01,.03,.05,.06,.06,.05,.03,.01,.01,0,0],[.01,.03,.15,.3,.45,.5,.35,.2,.05,.02,.01,0],[.02,.05,.2,.4,.85,.95,.5,.3,.08,.03,.02,.01],[.01,.02,.1,.15,.3,.35,.25,.1,.03,.01,.01,0],[0,0,.01,.02,.03,.04,.03,.02,.01,0,0,0]];
const heatLxG = [[.03,.06,.1,.12,.12,.14,.13,.1,.08,.06,.04,.02,.01],[.1,.2,.4,.55,.6,.7,.6,.4,.25,.12,.08,.05,.02],[.12,.25,.55,.8,.9,1,.8,.55,.3,.15,.1,.06,.02],[.1,.2,.35,.55,.6,.65,.55,.35,.2,.1,.07,.04,.01],[.03,.06,.1,.12,.15,.18,.15,.1,.06,.04,.02,.01,0],[0,.01,.02,.03,.04,.04,.03,.02,.01,0,0,0,0]];

/* ---------- panel: delta lambda vs distance ---------- */
const contDxB90 = [[-1,52.5],[53,51.8],[115,49],[162,43.8],[170,36.3],[167,28.8],[154,25.5],[123,21.3],[69,18.9],[-1,17.3],[-56,18.3],[-95,22.2],[-126,28.8],[-134,36.3],[-118,46.6],[-72,50.8]];
const contDxB50 = [[-1,48],[45,47.1],[73,43.3],[69,39.6],[45,36.8],[73,32.5],[76,29.3],[53,26],[-1,24.1],[-33,25.5],[-56,28.8],[-53,31.6],[-22,36.3],[-48,40.1],[-53,44.3],[-33,47.1]];
const contDxO90 = [[-9,46.6],[147,45.5],[271,43.8],[337,42.9],[337,41.7],[225,39.9],[22,39.1],[-165,39.3],[-321,40.1],[-340,41.2],[-274,43.3],[-134,45.7]];
const contDxO50 = [[-9,44.9],[131,44.5],[221,43.1],[193,41.9],[53,41.3],[-56,41.5],[-110,42.9],[-72,44.3]];
const contDxG90 = [[119,43.8],[214,44.1],[220,42.4],[170,41.6],[341,41.5],[427,39.3],[474,37.1],[458,34.4],[380,31.6],[256,30],[170,30.7],[123,33],[84,33.8],[81,36.5],[112,36.8],[143,39.6],[119,41.9]];
const contDxG50 = [[201,38.2],[271,39.1],[334,37.7],[365,35.8],[334,34],[263,32.5],[193,34],[157,36.1]];
const heatDxB = [[0,.03,.08,.08,.03,0],[.02,.15,.25,.2,.08,.01],[.03,.25,.6,.5,.12,.02],[.03,.3,.95,.6,.12,.02],[.03,.2,.45,.4,.1,.02],[.03,.15,.3,.25,.08,.02],[.03,.2,.35,.35,.1,.02],[.03,.25,.5,.45,.12,.02],[.02,.15,.3,.3,.08,.01],[.01,.05,.15,.15,.04,0]];
const heatDxO = [[0,.01,.03,.05,.06,.06,.03,.01,0],[.01,.03,.2,.35,.45,.45,.25,.05,.01],[.02,.05,.25,.5,.95,.95,.4,.1,.02],[.01,.02,.1,.25,.35,.3,.15,.03,.01],[0,0,.01,.03,.05,.04,.02,.01,0]];
const heatDxG = [[.02,.08,.15,.2,.15,.08,.03,.01],[.04,.25,.55,.65,.5,.2,.08,.03],[.06,.45,.85,1,.75,.3,.12,.05],[.05,.35,.6,.75,.55,.2,.1,.04],[.02,.1,.2,.25,.2,.08,.05,.02],[0,.02,.04,.06,.05,.03,.02,0]];

/* ---------- panel: iota vs distance ---------- */
const contIxB90 = [[1.886,23.2],[1.916,28.8],[2.006,32.1],[2.186,36.3],[2.346,40.5],[2.486,44.3],[2.666,48.5],[2.846,50.6],[3.006,51.3],[3.134,50.8],[3.134,45.9],[3.086,45.7],[2.986,43.3],[2.806,39.6],[2.646,36.8],[2.506,33.5],[2.366,29.3],[2.226,24.6],[2.106,20.4],[1.956,17.7],[1.916,18.9],[1.882,21.8]];
const contIxB50a = [[2.286,34.2],[2.176,33.5],[2.056,29.7],[2,26],[2.016,23.6],[2.086,24.1],[2.186,26.5],[2.262,29.7]];
const contIxB50b = [[2.576,43.6],[2.666,45.5],[2.806,45.9],[2.856,44.9],[2.786,42.1],[2.686,40.2],[2.622,38.8]];
const contIxO90 = [[2.686,46.1],[2.766,45.7],[2.802,43.8],[2.746,41],[2.646,39.3],[2.586,39.9],[2.57,41.9],[2.606,44.7]];
const contIxO50 = [[2.636,43.1],[2.686,44.3],[2.746,44.1],[2.756,42.9],[2.696,41.7],[2.636,41.5]];
const contIxG90 = [[2.186,33.7],[2.286,37.2],[2.446,40.8],[2.576,41.9],[2.63,43.1],[2.746,44.1],[2.756,42.9],[2.696,41.7],[2.636,41.5],[2.606,37.7],[2.486,34],[2.346,30.7],[2.246,30],[2.186,31.6]];
const contIxG50 = [[2.276,33.5],[2.346,36.8],[2.466,39.1],[2.536,38.8],[2.536,37.1],[2.466,34.9],[2.346,32.5],[2.286,32.5]];
const heatIxB = [[.02,.03,.02],[.15,.2,.12,.03,.01],[.12,.35,.6,.4,.12,.02],[.02,.25,.75,.85,.35,.1,.02],[0,.03,.12,.35,.2,.12,.1,.05,.02],[0,0,.01,.05,.08,.1,.15,.18,.15,.05],[0,0,0,.01,.02,.05,.08,.15,.2,.2,.12,.03],[0,0,0,0,0,.01,.03,.06,.12,.2,.3,.3,.2,.08,.03],[0,0,0,0,0,0,0,.01,.03,.1,.15,.2,.3,.3,.15,.05,.02],[0,0,0,0,0,0,0,0,0,.01,.04,.06,.1,.12,.12,.12,.1]];
const heatIxO = [[.03,.04,.02],[.08,.1,.06,.02],[.06,.12,.12,.04],[.01,.04,.04,.02]];
const heatIxG = [[.1,.2,.12,.03,0,0,0,0],[.2,.4,.6,.45,.15,.04,.01,0],[.05,.2,.6,.95,.85,.4,.1,.02],[0,.03,.15,.4,.7,.8,.5,.1],[0,0,.01,.05,.12,.2,.25,.08]];

/* layout of the triangle grid */
const colLeft = [85, 309.5, 534, 758.3, 983];
const colRight = [299, 523.3, 747.8, 972.3, 1196.3];
const rowTop = [3.4, 227.7, 452, 676.7, 901];
const rowBottom = [216.7, 441, 665.7, 890, 1114];
const xAxes = [
  {name:'chirp-mass', range:mcRange, ticks:mcTicks, labels:mcTickLabels},
  {name:'q', range:qRange, ticks:qTicks, labels:qTickLabels},
  {name:'lambda', range:lambdaRange, ticks:lambdaTicks, labels:lambdaTickLabels},
  {name:'delta-lambda', range:deltaRange, ticks:deltaTicks, labels:deltaTickLabels},
  {name:'iota', range:iotaRange, ticks:iotaTicks, labels:iotaTickLabels}
];
const yAxes = [
  {name:'q', range:qRange, ticks:qTicks, labels:qTickLabels},
  {name:'lambda', range:lambdaRange, ticks:lambdaTicks, labels:lambdaTickLabels},
  {name:'delta-lambda', range:deltaRange, ticks:deltaTicks, labels:deltaTickLabels},
  {name:'iota', range:iotaRange, ticks:iotaTicks, labels:iotaTickLabels},
  {name:'distance', range:distRange, ticks:distTicks, labels:distTickLabels}
];

/* histogram binning per series per panel: [values, firstEdgeX, binWidthX, firstEdgeY, binWidthY]; line entries: [points, series, closed, whiteFill] */
const panels = [
 {c:0,r:0,heats:[[heatMqB,25.7,7.5,1,.1],[heatMqO,34.5,7.5,1.1,.1],[heatMqG,38.6,3.74,1.02,.05]],
  lines:[[contMqB90,0,0,0],[contMqBIsland1,0,1,0],[contMqBIsland2,0,1,0],[contMqB50,0,1,0],[contMqO90,1,0,1],[contMqO50,1,1,0],[contMqG90,2,0,1],[contMqG50,2,1,0]]},
 {c:0,r:1,heats:[[heatMlB,32.7,7.5,7,80],[heatMlO,42,7.5,124,105],[heatMlG,38.8,3.74,295,63]],
  lines:[[contMlB90,0,0,0],[contMlB50,0,0,0],[contMlO90,1,1,1],[contMlO50,1,1,0],[contMlG90,2,1,1],[contMlG50,2,1,0]]},
 {c:1,r:1,heats:[[heatQlB,1.2,.1,7,80],[heatQlO,1.218,.1,124,105],[heatQlG,1.012,.05,295,63]],
  lines:[[contQlB90a,0,0,0],[contQlB90b,0,0,0],[contQlB50,0,0,0],[contQlO90,1,1,1],[contQlO50,1,1,0],[contQlG90,2,1,1],[contQlG50,2,1,0]]},
 {c:0,r:2,heats:[[heatMdB,32.7,7.5,-69,50],[heatMdO,38.5,7.5,-264,60],[heatMdG,36.9,3.74,127,39]],
  lines:[[contMdB90,0,1,0],[contMdB50,0,1,0],[contMdO90,1,1,1],[contMdO50,1,1,0],[contMdG90,2,1,1],[contMdG50,2,1,0]]},
 {c:1,r:2,heats:[[heatQdB,1.1,.1,-69,50],[heatQdO,1.118,.1,-264,60],[heatQdG,1.012,.05,127,39]],
  lines:[[contQdB90a,0,0,0],[contQdB90b,0,0,0],[contQdB50,0,1,0],[contQdO90,1,1,1],[contQdO50,1,1,0],[contQdG90,2,1,1],[contQdG50,2,1,0]]},
 {c:2,r:2,heats:[[heatLdB,0,84,-69,50],[heatLdO,117,105,-327,64],[heatLdG,295,68,119,39]],
  lines:[[contLdB90,0,0,0],[contLdB50,0,0,0],[contLdO90,1,1,1],[contLdO50,1,1,0],[contLdG90,2,1,1],[contLdG50,2,1,0]]},
 {c:0,r:3,heats:[[heatMiB,32.7,7.5,1.92,.07],[heatMiO,42,7.5,2.58,.03],[heatMiG,38.5,3.74,2.28,.04]],
  lines:[[contMiB90,0,0,0],[contMiB50,0,1,0],[contMiO90,1,1,1],[contMiO50,1,1,0],[contMiG90,2,1,1],[contMiG50,2,1,0]]},
 {c:1,r:3,heats:[[heatQiB,1.1,.1,1.85,.07],[heatQiO,1.019,.1,2.58,.03],[heatQiG,1.037,.05,2.28,.04]],
  lines:[[contQiB90a,0,0,0],[contQiB90b,0,0,0],[contQiB90c,0,0,0],[contQiBIsland1,0,1,0],[contQiBIsland2,0,1,0],[contQiB50,0,1,0],[contQiO90,1,1,1],[contQiO50,1,1,0],[contQiG90,2,1,1],[contQiG50,2,1,0]]},
 {c:2,r:3,heats:[[heatLiB,0,84,1.85,.07],[heatLiO,117,105,2.58,.03],[heatLiG,295,68,2.24,.04]],
  lines:[[contLiB90,0,0,0],[contLiB50,0,0,0],[contLiBIsland,0,0,0],[contLiO90,1,1,1],[contLiO50,1,1,0],[contLiG90,2,1,1],[contLiG50,2,1,0]]},
 {c:3,r:3,heats:[[heatDiB,-118,46.7,1.85,.07],[heatDiO,-258,62,2.58,.03],[heatDiG,123,42,2.24,.04]],
  lines:[[contDiB90,0,0,0],[contDiB50,0,1,0],[contDiO90,1,1,1],[contDiO50,1,1,0],[contDiG90,2,1,1],[contDiGIsland,2,1,1],[contDiG50,2,1,0]]},
 {c:0,r:4,heats:[[heatMxB,32.7,7.5,18.9,3.2],[heatMxO,42,7.5,39.6,1.31],[heatMxG,37.1,3.74,32.4,1.5]],
  lines:[[contMxB90,0,1,0],[contMxB50,0,1,0],[contMxO90,1,1,1],[contMxO50,1,1,0],[contMxG90,2,1,1],[contMxG50,2,1,0]]},
 {c:1,r:4,heats:[[heatQxB,1.1,.1,18.9,3.2],[heatQxO,1.019,.1,39.6,1.31],[heatQxG,1.044,.05,32.4,1.5]],
  lines:[[contQxB90,0,0,0],[contQxBIsland,0,1,0],[contQxB50,0,1,0],[contQxO90,1,1,1],[contQxO50,1,1,0],[contQxG90,2,1,1],[contQxG50,2,1,0]]},
 {c:2,r:4,heats:[[heatLxB,0,84,18.9,3.2],[heatLxO,117,105,39.6,1.31],[heatLxG,295,68,32.4,1.5]],
  lines:[[contLxB90,0,0,0],[contLxB50a,0,0,0],[contLxB50b,0,0,0],[contLxO90,1,1,1],[contLxO50,1,1,0],[contLxG90,2,1,1],[contLxG50,2,1,0]]},
 {c:3,r:4,heats:[[heatDxB,-118,46.7,18.9,3.2],[heatDxO,-258,62,39.6,1.31],[heatDxG,123,42,32.4,1.5]],
  lines:[[contDxB90,0,1,0],[contDxB50,0,1,0],[contDxO90,1,1,1],[contDxO50,1,1,0],[contDxG90,2,1,1],[contDxG50,2,1,0]]},
 {c:4,r:4,heats:[[heatIxB,1.92,.072,18.9,3.2],[heatIxO,2.606,.064,39.6,1.5],[heatIxG,2.286,.032,32.4,1.5]],
  lines:[[contIxB90,0,1,0],[contIxB50a,0,0,0],[contIxB50b,0,0,0],[contIxO90,1,1,1],[contIxO50,1,1,0],[contIxG90,2,1,1],[contIxG50,2,1,0]]}
];

const NS = 'http://www.w3.org/2000/svg';
const seriesNames = ['gw170817', 'at2017gfo', 'nri'];
function xPos(col, v) {
  const a = xAxes[col].range;
  return colLeft[col] + (v - a[0]) / (a[1] - a[0]) * (colRight[col] - colLeft[col]);
}
function yPos(row, v) {
  const a = yAxes[row].range;
  return rowBottom[row] - (v - a[0]) / (a[1] - a[0]) * (rowBottom[row] - rowTop[row]);
}
function smoothPath(p, closed) {
  const n = p.length;
  const at = function (i) {
    if (closed) return p[(i + n) % n];
    return p[Math.max(0, Math.min(n - 1, i))];
  };
  let d = 'M' + p[0][0].toFixed(2) + ' ' + p[0][1].toFixed(2);
  const segs = closed ? n : n - 1;
  const k = 7.5;
  for (let i = 0; i < segs; i++) {
    const a = at(i - 1), b = at(i), c = at(i + 1), e = at(i + 2);
    d += 'C' + (b[0] + (c[0] - a[0]) / k).toFixed(2) + ' ' + (b[1] + (c[1] - a[1]) / k).toFixed(2) + ' ' +
         (c[0] - (e[0] - b[0]) / k).toFixed(2) + ' ' + (c[1] - (e[1] - b[1]) / k).toFixed(2) + ' ' +
         c[0].toFixed(2) + ' ' + c[1].toFixed(2);
  }
  return closed ? d + 'Z' : d;
}
const root = document.getElementById('panels');
const labelRoot = document.getElementById('labels');
const defs = document.createElementNS(NS, 'defs');
root.appendChild(defs);

function drawHeat(group, panel, spec, s) {
  const values = spec[0], x0 = spec[1], dx = spec[2], y0 = spec[3], dy = spec[4];
  values.forEach(function (rowVals, j) {
    rowVals.forEach(function (v, i) {
      if (!v) return;
      const left = xPos(panel.c, x0 + dx * i);
      const right = xPos(panel.c, x0 + dx * (i + 1));
      const bottom = yPos(panel.r, y0 + dy * j);
      const top = yPos(panel.r, y0 + dy * (j + 1));
      const rect = document.createElementNS(NS, 'rect');
      
      
      rect.setAttribute('x', left.toFixed(2));
      rect.setAttribute('y', top.toFixed(2));
      rect.setAttribute('width', (right - left).toFixed(2));
      rect.setAttribute('height', (bottom - top).toFixed(2));
      rect.setAttribute('fill', seriesColors[s]);
      rect.setAttribute('fill-opacity', v);
      rect.setAttribute('shape-rendering', 'crispEdges');
      group.appendChild(rect);
    });
  });
}

panels.forEach(function (panel, idx) {
  const left = colLeft[panel.c], right = colRight[panel.c], top = rowTop[panel.r], bottom = rowBottom[panel.r];
  const g = document.createElementNS(NS, 'g');
  
  
  root.appendChild(g);

  const clip = document.createElementNS(NS, 'clipPath');
  clip.setAttribute('id', 'clip' + idx);
  const clipRect = document.createElementNS(NS, 'rect');
  clipRect.setAttribute('x', left);
  clipRect.setAttribute('y', top);
  clipRect.setAttribute('width', right - left);
  clipRect.setAttribute('height', bottom - top);
  clip.appendChild(clipRect);
  defs.appendChild(clip);

  const inner = document.createElementNS(NS, 'g');
  inner.setAttribute('clip-path', 'url(#clip' + idx + ')');
  g.appendChild(inner);

  const toPixels = function (pts) {
    return pts.map(function (pt) { return [xPos(panel.c, pt[0]), yPos(panel.r, pt[1])]; });
  };
  [0, 1, 2].forEach(function (s) {
    panel.lines.forEach(function (ln) {
      if (ln[1] !== s || !ln[3]) return;
      const mask = document.createElementNS(NS, 'path');
      
      
      mask.setAttribute('d', smoothPath(toPixels(ln[0]), !!ln[2]));
      mask.setAttribute('fill', '#ffffff');
      mask.setAttribute('stroke', 'none');
      inner.appendChild(mask);
    });
    drawHeat(inner, panel, panel.heats[s], s);
  });
  panel.lines.forEach(function (ln) {
    const path = document.createElementNS(NS, 'path');
    
    
    path.setAttribute('d', smoothPath(toPixels(ln[0]), !!ln[2]));
    path.setAttribute('fill', 'none');
    path.setAttribute('stroke', seriesColors[ln[1]]);
    path.setAttribute('stroke-width', '1.35');
    path.setAttribute('stroke-linejoin', 'round');
    inner.appendChild(path);
  });

  const frame = document.createElementNS(NS, 'rect');
  
  
  frame.setAttribute('x', left);
  frame.setAttribute('y', top);
  frame.setAttribute('width', right - left);
  frame.setAttribute('height', bottom - top);
  frame.setAttribute('fill', 'none');
  frame.setAttribute('stroke', '#222222');
  frame.setAttribute('stroke-width', '1.1');
  g.appendChild(frame);

  xAxes[panel.c].ticks.forEach(function (t) {
    const x = xPos(panel.c, t);
    const tick = document.createElementNS(NS, 'line');
    
    
    tick.setAttribute('x1', x);
    tick.setAttribute('x2', x);
    tick.setAttribute('y1', bottom);
    tick.setAttribute('y2', bottom + 5);
    tick.setAttribute('stroke', '#222222');
    tick.setAttribute('stroke-width', '1');
    g.appendChild(tick);
  });
  yAxes[panel.r].ticks.forEach(function (t) {
    const y = yPos(panel.r, t);
    const tick = document.createElementNS(NS, 'line');
    
    
    tick.setAttribute('x1', left - 5);
    tick.setAttribute('x2', left);
    tick.setAttribute('y1', y);
    tick.setAttribute('y2', y);
    tick.setAttribute('stroke', '#222222');
    tick.setAttribute('stroke-width', '1');
    g.appendChild(tick);
  });
});

const FS = 15;
function placeLabel(str, cxFn, name) {
  const t = document.createElementNS(NS, 'text');
  
  
  t.setAttribute('font-size', FS);
  t.setAttribute('text-anchor', 'middle');
  t.textContent = str;
  labelRoot.appendChild(t);
  const half = (t.getComputedTextLength() + 0.73 * FS) * 0.7071 / 2;
  const c = cxFn(half);
  t.setAttribute('x', c[0].toFixed(2));
  t.setAttribute('y', (c[1] + 0.365 * FS).toFixed(2));
  t.setAttribute('transform', 'rotate(-45 ' + c[0].toFixed(2) + ' ' + c[1].toFixed(2) + ')');
}
xAxes.forEach(function (axis, col) {
  axis.ticks.forEach(function (tv, i) {
    placeLabel(axis.labels[i], function (half) { return [xPos(col, tv), 1130 + half]; }, 'x-tick-label-' + axis.name);
  });
});
yAxes.forEach(function (axis, row) {
  axis.ticks.forEach(function (tv, i) {
    placeLabel(axis.labels[i], function (half) { return [72 - half, yPos(row, tv) - 3 + half]; }, 'y-tick-label-' + axis.name);
  });
});
</script>
</body>
</html>
